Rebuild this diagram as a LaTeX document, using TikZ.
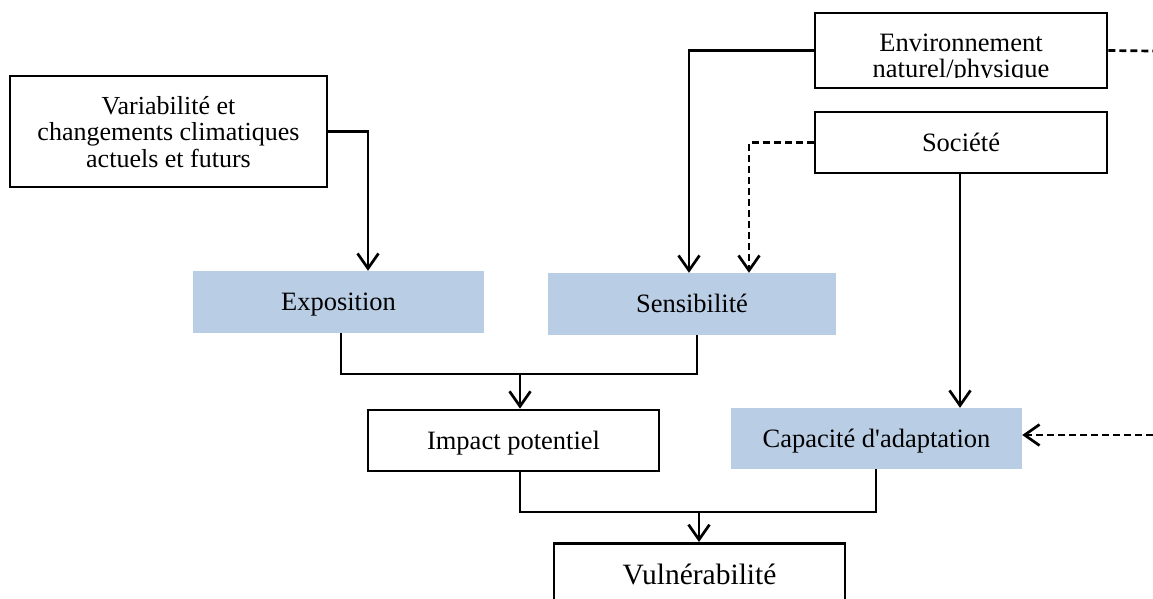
\documentclass[tikz,border=0pt]{standalone}
\usepackage{fontspec}
\setmainfont{Liberation Serif}
\usetikzlibrary{arrows.meta}
\definecolor{boxblue}{RGB}{185,205,229}

\begin{document}
\begin{tikzpicture}[x=1pt, y=-1pt,
        frame/.style={draw, line width=2.7pt, fill=white, inner sep=0pt, minimum width=291pt, minimum height=61pt, text height=17.5pt, text depth=0pt, font=\fontsize{26.5}{29}\selectfont},
        shaded/.style={fill=boxblue, inner sep=0pt, minimum width=291pt, minimum height=62pt, text height=17.5pt, text depth=0pt, font=\fontsize{26.5}{29}\selectfont},
        line/.style={-, line width=2.7pt},
        arr/.style={-{Straight Barb[length=15pt, width=21pt]}, line width=2.7pt},
        dashline/.style={line width=2.7pt, dash pattern=on 7pt off 4pt}
    ]
        \useasboundingbox (0,0) rectangle (1153,599);
        \clip (0,0) rectangle (1153,599);

        % Sources
        \node[frame, align=center, text height=, minimum width=317pt, minimum height=111pt, font=\fontsize{26}{26.5}\selectfont] (var) at (168.5,131.5) {Variabilité et\\changements climatiques\\actuels et futurs};
        \node[frame, minimum width=292pt, minimum height=75pt] (env) at (961,50.5) {};
        \begin{scope}
            \clip (816,15) rectangle (1106,78);
            \node[anchor=base, font=\fontsize{26.5}{29}\selectfont] (envtop) at (961,52) {Environnement};
            \node[anchor=base, font=\fontsize{26.5}{29}\selectfont] (envbot) at (961,78) {naturel/physique};
        \end{scope}
        \node[frame, minimum width=292pt] (soc) at (961,142.5) {Société};

        % Components
        \node[shaded] (expo) at (338.5,302) {Exposition};
        \node[shaded, minimum width=288pt] (sens) at (692,304) {Sensibilité};
        \node[frame] (impact) at (513.5,440.5) {Impact potentiel};
        \node[shaded, minimum height=61pt] (capa) at (876.5,438.5) {Capacité d\textquotesingle adaptation};
        \node[frame, anchor=north, inner ysep=21pt, text height=20pt, text depth=40pt, font=\fontsize{29.5}{32}\selectfont] (vuln) at (699.5,542) {Vulnérabilité};

        \coordinate (envout) at (1153,51);
        \coordinate (capin) at (1153,435);
        \coordinate (j1) at (520,374);
        \coordinate (j2) at (699,512);

        \draw[arr] (var.east) -| ([xshift=29.5pt]expo.north);
        \draw[arr] (env.west) -| ([xshift=-3pt]sens.north);
        \draw[arr, dashline] (soc.west) -| ([xshift=57pt]sens.north);
        \draw[arr] ([xshift=-1pt]soc.south) -- ([xshift=-1pt]soc.south |- capa.north);
        \draw[line, dashline] (env.east) -- (envout);
        \draw[arr, dashline] (capin) -- (capin -| capa.east);

        \draw[line] ([xshift=2.5pt]expo.south) |- (j1) -| ([xshift=5pt]sens.south);
        \draw[arr] (j1) -- (j1 |- impact.north);
        \draw[line] ([xshift=6.5pt]impact.south) |- (j2) -| ([xshift=-0.5pt]capa.south);
        \draw[arr] (j2) -- (j2 |- vuln.north);
    \end{tikzpicture}
\end{document}
